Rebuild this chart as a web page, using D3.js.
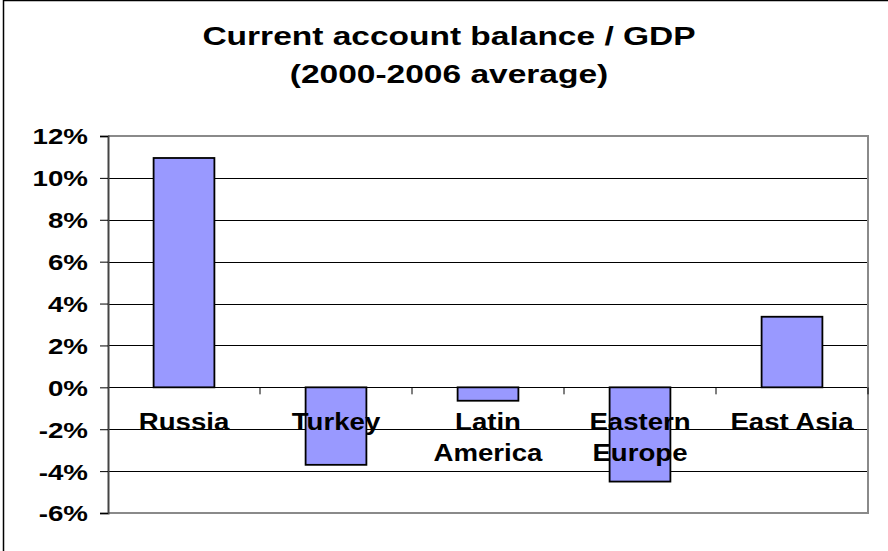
<!DOCTYPE html>
<html>
<head>
<meta charset="utf-8">
<script src="https://cdn.jsdelivr.net/npm/d3@7"></script>
<style>
  body { margin: 0; background: #fff; }
  text { font-family: "Liberation Sans", Arial, sans-serif; font-weight: bold; fill: #000; }
</style>
</head>
<body>
<script>
var categories = [["Russia"], ["Turkey"], ["Latin", "America"], ["Eastern", "Europe"], ["East Asia"]];
var values = [10.95, -3.7, -0.64, -4.5, 3.37];
var yTicks = [-6, -4, -2, 0, 2, 4, 6, 8, 10, 12];
var titleLines = ["Current account balance / GDP", "(2000-2006 average)"];

var w = 888, h = 551;
var margin = {top: 136, bottom: 38, left: 108, right: 20};
var width = w - margin.left - margin.right;
var height = h - margin.top - margin.bottom;

var keys = categories.map(function(c){ return c.join(" "); });

var x = d3.scaleBand().domain(keys).range([0, width]).paddingInner(0.6).paddingOuter(0.3);
var xb = d3.scaleBand().domain(keys).range([0, width]);
var y = d3.scaleLinear().domain([-6, 12]).range([height, 0]);

var svg = d3.select("body").append("svg").attr("width", w).attr("height", h);

// outer frame (left and top edges visible)
svg.append("rect").attr("x", 3.5).attr("y", 0.5).attr("width", 1000).attr("height", 1000)
  .attr("fill", "none").attr("stroke", "#000").attr("stroke-width", 1.5);

// title
svg.selectAll(".title").data(titleLines).enter().append("text")
  .attr("class", "title")
  .attr("transform", function(d, i){ return "translate(449," + (45 + i * 38) + ") scale(1.34,1)"; })
  .attr("text-anchor", "middle")
  .style("font-size", "25px")
  .text(function(d){ return d; });

var chart = svg.append("g").attr("transform", "translate(" + margin.left + "," + margin.top + ")");

// gridlines
chart.append("g").selectAll("line").data(yTicks.filter(function(t){ return t !== 12 && t !== -6; })).enter()
  .append("line")
  .attr("x1", 0).attr("x2", width)
  .attr("y1", function(d){ return Math.round(y(d)) + 0.5; })
  .attr("y2", function(d){ return Math.round(y(d)) + 0.5; })
  .attr("stroke", "#000").attr("stroke-width", 1);

// plot area border (top, right, bottom)
chart.append("path")
  .attr("d", "M0," + y(12) + "H" + width + "V" + y(-6) + "H0")
  .attr("fill", "none").attr("stroke", "#8a8a8a").attr("stroke-width", 2);

// bars
chart.selectAll(".bar").data(values).enter().append("rect")
  .attr("class", "bar")
  .attr("x", function(d, i){ return x(keys[i]); })
  .attr("width", x.bandwidth())
  .attr("y", function(d){ return y(Math.max(0, d)); })
  .attr("height", function(d){ return Math.abs(y(d) - y(0)); })
  .attr("fill", "#9999ff").attr("stroke", "#000").attr("stroke-width", 1.8);

// y axis
var tsx = 1.26;
var yAxis = chart.append("g")
  .call(d3.axisLeft(y).tickValues(yTicks).tickSize(8).tickPadding(0)
    .tickFormat(function(d){ return d + "%"; }));
yAxis.select(".domain").attr("stroke", "#444").attr("stroke-width", 2);
yAxis.selectAll(".tick line").attr("stroke", "#000");
yAxis.selectAll(".tick text")
  .attr("x", -20 / tsx)
  .attr("dy", "0.36em")
  .attr("transform", "scale(" + tsx + ",1)")
  .style("font-size", "22px").attr("fill", "#000");

// x axis at zero line, ticks at band boundaries
var x0 = chart.append("g").attr("transform", "translate(0," + y(0) + ")");
x0.selectAll("line").data(keys.slice(1).concat(["end"])).enter().append("line")
  .attr("x1", function(d){ return d === "end" ? width : xb(d); })
  .attr("x2", function(d){ return d === "end" ? width : xb(d); })
  .attr("y1", 0).attr("y2", 7)
  .attr("stroke", "#000");

var csx = 1.15;
var xAxis = chart.append("g").attr("transform", "translate(0," + y(0) + ")")
  .call(d3.axisBottom(xb).tickSize(0).tickFormat(""));
xAxis.select(".domain").remove();
xAxis.selectAll(".tick").each(function(d, i){
  var t = d3.select(this).append("text")
    .attr("text-anchor", "middle")
    .attr("transform", "scale(" + csx + ",1)")
    .style("font-size", "24px");
  categories[i].forEach(function(line, j){
    t.append("tspan").attr("x", 0).attr("y", 43 + j * 31).text(line);
  });
});
</script>
</body>
</html>
